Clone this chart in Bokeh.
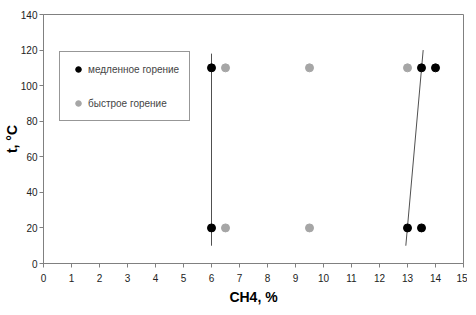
from bokeh.plotting import figure
from bokeh.models import Range1d, Legend, LegendItem, SingleIntervalTicker
from bokeh.embed import file_html
from bokeh.resources import INLINE

# data
slow_x = [6, 6, 13, 13.5, 13.5, 14]
slow_y = [110, 20, 20, 20, 110, 110]
fast_x = [6.5, 6.5, 9.5, 9.5, 13]
fast_y = [110, 20, 110, 20, 110]
line1_x = [6, 6]
line1_y = [10, 118]
line2_x = [12.94, 13.56]
line2_y = [10, 120]

p = figure(frame_width=420, frame_height=249, output_backend="svg", toolbar_location=None,
           x_range=Range1d(0, 15), y_range=Range1d(0, 140),
           min_border_left=36, min_border_right=4, min_border_top=14, min_border_bottom=28)
p.grid.visible = False
p.outline_line_color = "#808080"
p.background_fill_color = "white"
p.border_fill_color = "white"

p.line(line1_x, line1_y, line_color="#505050", line_width=1)
p.line(line2_x, line2_y, line_color="#505050", line_width=1)
# small dots used for the legend glyphs (covered by the larger dots)
r_slow = p.scatter(slow_x, slow_y, size=5, fill_color="black", line_color="black")
r_fast = p.scatter(fast_x, fast_y, size=5, fill_color="#a6a6a6", line_color="#a6a6a6")
p.scatter(slow_x, slow_y, size=8, fill_color="black", line_color="black")
p.scatter(fast_x, fast_y, size=8, fill_color="#a6a6a6", line_color="#a6a6a6")

legend = Legend(items=[LegendItem(label="медленное горение", renderers=[r_slow]),
                       LegendItem(label="быстрое горение", renderers=[r_fast])],
                location=(16, 142), padding=10, glyph_width=16, glyph_height=14,
                label_height=14, spacing=20, label_standoff=2,
                label_text_font="Liberation Sans", label_text_font_size="10px",
                border_line_color="#303030", border_line_width=1,
                background_fill_alpha=1, margin=0)
p.add_layout(legend, "center")

for ax in (p.xaxis, p.yaxis):
    ax.axis_line_color = "#808080"
    ax.major_tick_line_color = "#808080"
    ax.minor_tick_line_color = None
    ax.major_tick_out = 4
    ax.major_tick_in = 0
    ax.major_label_text_font = "Liberation Sans"
    ax.major_label_text_font_size = "10px"
    ax.major_label_text_color = "#222222"
    ax.axis_label_text_font = "Liberation Sans"
    ax.axis_label_text_font_size = "14px"
    ax.axis_label_text_font_style = "bold"
    ax.axis_label_text_color = "black"

p.xaxis.ticker = SingleIntervalTicker(interval=1)
p.yaxis.ticker = SingleIntervalTicker(interval=20)
p.xaxis.axis_label = "CH4, %"
p.yaxis.axis_label = "t, °C"
p.xaxis.major_label_standoff = 6
p.yaxis.major_label_standoff = 2
p.xaxis.axis_label_standoff = 4
p.yaxis.axis_label_standoff = -2

open("out.html", "w").write(file_html(p, INLINE))
